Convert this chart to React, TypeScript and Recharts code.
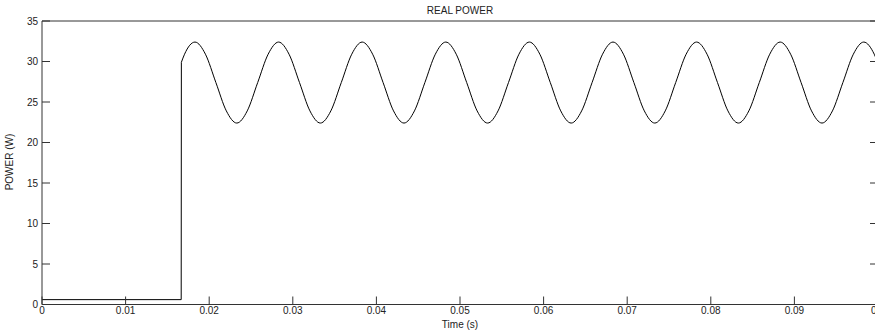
import React from 'react';
import { LineChart, Line, XAxis, YAxis } from 'recharts';

// time (s) and power (W)
const stepTime = [0, 0.01665, 0.01667];
const stepPower = [0.6, 0.6, 29.9];

const waveTime = [
  0.01667, 0.01705,
  0.0183, 0.01955, 0.0208, 0.02205, 0.0233, 0.02455, 0.0258, 0.02705,
  0.0283, 0.02955, 0.0308, 0.03205, 0.0333, 0.03455, 0.0358, 0.03705,
  0.0383, 0.03955, 0.0408, 0.04205, 0.0433, 0.04455, 0.0458, 0.04705,
  0.0483, 0.04955, 0.0508, 0.05205, 0.0533, 0.05455, 0.0558, 0.05705,
  0.0583, 0.05955, 0.0608, 0.06205, 0.0633, 0.06455, 0.0658, 0.06705,
  0.0683, 0.06955, 0.0708, 0.07205, 0.0733, 0.07455, 0.0758, 0.07705,
  0.0783, 0.07955, 0.0808, 0.08205, 0.0833, 0.08455, 0.0858, 0.08705,
  0.0883, 0.08955, 0.0908, 0.09205, 0.0933, 0.09455, 0.0958, 0.09705,
  0.0983, 0.09955, 0.1,
];
const wavePower = [
  29.9, 30.9,
  32.4, 30.9, 27.4, 23.9, 22.4, 23.9, 27.4, 30.9,
  32.4, 30.9, 27.4, 23.9, 22.4, 23.9, 27.4, 30.9,
  32.4, 30.9, 27.4, 23.9, 22.4, 23.9, 27.4, 30.9,
  32.4, 30.9, 27.4, 23.9, 22.4, 23.9, 27.4, 30.9,
  32.4, 30.9, 27.4, 23.9, 22.4, 23.9, 27.4, 30.9,
  32.4, 30.9, 27.4, 23.9, 22.4, 23.9, 27.4, 30.9,
  32.4, 30.9, 27.4, 23.9, 22.4, 23.9, 27.4, 30.9,
  32.4, 30.9, 27.4, 23.9, 22.4, 23.9, 27.4, 30.9,
  32.4, 30.9, 29.8,
];

const xTicks = [0, 0.01, 0.02, 0.03, 0.04, 0.05, 0.06, 0.07, 0.08, 0.09, 0.1];
const yTicks = [0, 5, 10, 15, 20, 25, 30, 35];

const stepData = stepTime.map((t, i) => ({ t, p: stepPower[i] }));
const waveData = waveTime.map((t, i) => ({ t, p: wavePower[i] }));

const font = 'Arial, "Liberation Sans", sans-serif';
const axisColor = '#333';
const tickStyle = { fontSize: 10, fill: '#222', fontFamily: font };
const noLabel = () => <g />;

export default function App() {
  return (
    <div style={{ position: 'absolute', left: 0, top: 0, width: 875, height: 332, overflow: 'hidden', background: '#fff' }}>
      <LineChart width={882} height={332} margin={{ top: 20, right: 3, bottom: 0, left: 0 }}>
        <XAxis
          dataKey="t"
          type="number"
          domain={[0, 0.1]}
          ticks={xTicks}
          tickFormatter={(v: number) => String(v)}
          height={27.5}
          tickSize={-8}
          tickMargin={10}
          stroke={axisColor}
          tick={tickStyle}
          interval={0}
          allowDataOverflow
        />
        <XAxis
          xAxisId="top"
          orientation="top"
          type="number"
          domain={[0, 0.1]}
          ticks={xTicks}
          height={1}
          tickSize={-8}
          tick={noLabel}
          interval={0}
          stroke={axisColor}
          allowDataOverflow
        />
        <YAxis
          type="number"
          domain={[0, 35]}
          ticks={yTicks}
          width={42}
          tickSize={-8}
          tickMargin={12}
          stroke={axisColor}
          tick={tickStyle}
          interval={0}
          allowDataOverflow
        />
        <YAxis
          yAxisId="right"
          orientation="right"
          type="number"
          domain={[0, 35]}
          ticks={yTicks}
          width={1}
          tickSize={-8}
          tick={noLabel}
          interval={0}
          stroke={axisColor}
          allowDataOverflow
        />
        <Line data={stepData} dataKey="p" type="linear" stroke="#000" strokeWidth={1} dot={false} isAnimationActive={false} />
        <Line data={waveData} dataKey="p" type="monotone" stroke="#000" strokeWidth={1} dot={false} isAnimationActive={false} />
      </LineChart>
      <div style={{ position: 'absolute', left: 0, width: 920, top: 4, textAlign: 'center', fontFamily: font, fontSize: 10, lineHeight: '14px', color: '#222' }}>
        REAL POWER
      </div>
      <div style={{ position: 'absolute', left: 0, width: 920, top: 318, textAlign: 'center', fontFamily: font, fontSize: 10, lineHeight: '14px', color: '#222' }}>
        Time (s)
      </div>
      <div style={{ position: 'absolute', left: 10, top: 162, transform: 'translate(-50%, -50%) rotate(-90deg)', whiteSpace: 'nowrap', fontFamily: font, fontSize: 10, lineHeight: '14px', color: '#222' }}>
        POWER (W)
      </div>
    </div>
  );
}
